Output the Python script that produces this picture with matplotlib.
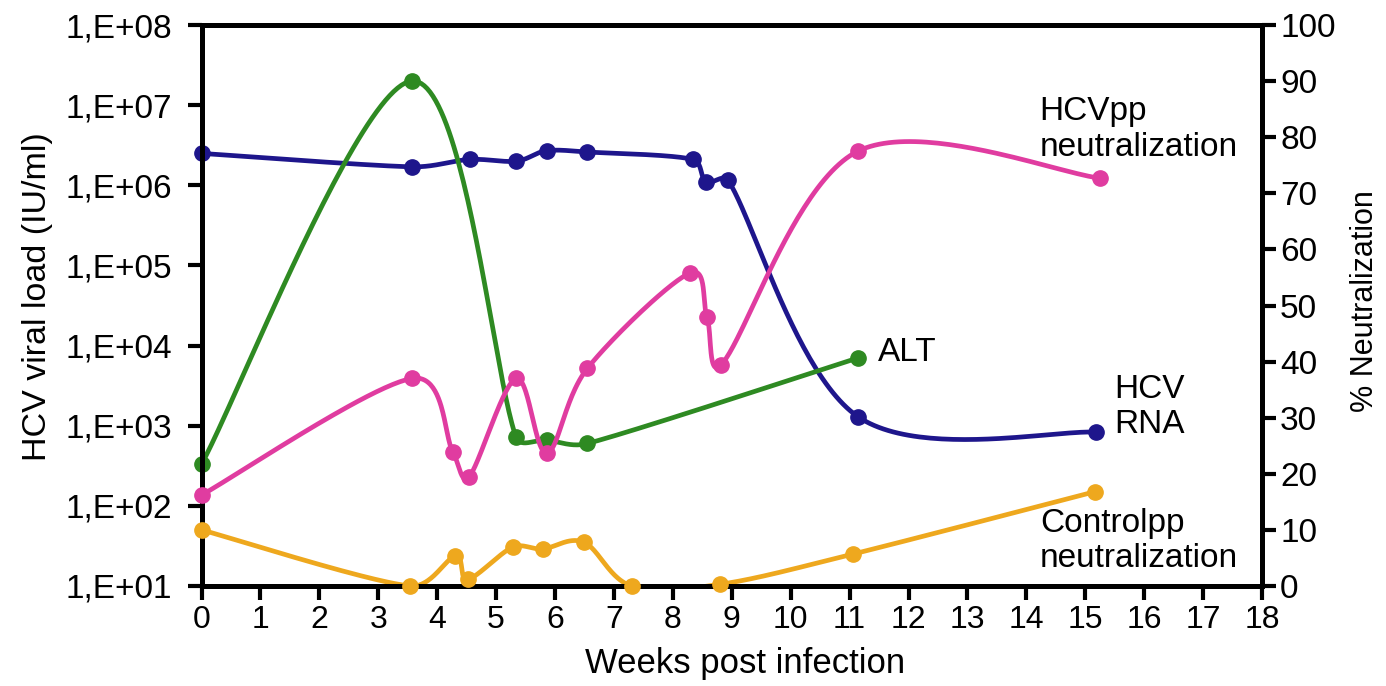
import numpy as np
import matplotlib
matplotlib.use("Agg")
import matplotlib.pyplot as plt
from matplotlib.ticker import FixedLocator, FixedFormatter, NullLocator

plt.rcParams['font.family'] = ['Liberation Sans', 'DejaVu Sans']

# ---- data ----
rna_weeks = [0, 3.57, 4.55, 5.34, 5.86, 6.55, 8.34, 8.56, 8.94, 11.14, 15.18]
rna_load = [2.5e6, 1.7e6, 2.1e6, 2.0e6, 2.7e6, 2.6e6, 2.1e6, 1.1e6, 1.15e6, 1.3e3, 8.3e2]

alt_weeks = [0, 3.57, 5.34, 5.86, 6.55, 11.14]
alt_vals = [330, 2.0e7, 720, 660, 600, 7000]

hcvpp_weeks = [0, 3.57, 4.27, 4.54, 5.34, 5.86, 6.55, 8.29, 8.58, 8.82, 11.14, 15.25]
hcvpp_neut = [16.2, 37.0, 23.8, 19.4, 37.0, 23.7, 38.8, 55.8, 47.9, 39.4, 77.5, 72.7]

ctrl_weeks = [0, 3.54, 4.31, 4.52, 5.28, 5.79, 6.49, 7.30, 8.80, 11.06, 15.16]
ctrl_neut = [10.0, 0.0, 5.3, 1.2, 6.9, 6.6, 7.8, 0.0, 0.3, 5.7, 16.8]

x_ticks = list(range(0, 19))
left_ticks = [1e1, 1e2, 1e3, 1e4, 1e5, 1e6, 1e7, 1e8]
left_labels = ['1,E+01', '1,E+02', '1,E+03', '1,E+04', '1,E+05', '1,E+06', '1,E+07', '1,E+08']
right_ticks = list(range(0, 101, 10))

c_rna = '#1e168c'
c_alt = '#2e8a22'
c_hcvpp = '#e03ca0'
c_ctrl = '#eea81e'


def smooth_display(a, xs, ys, n=50, k=0.4):
    """Excel-like smoothed line computed in display space (Bezier, capped arms)."""
    P = a.transData.transform(np.column_stack([xs, ys]).astype(float))
    m = len(P)
    out = []
    for i in range(m - 1):
        p0 = P[i - 1] if i > 0 else P[i]
        p1 = P[i]
        p2 = P[i + 1]
        p3 = P[i + 2] if i + 2 < m else P[i + 1]
        seg_len = np.linalg.norm(p2 - p1)
        t1 = (p2 - p0) / 6.0
        t2 = (p3 - p1) / 6.0
        for t in (t1, t2):
            L = np.linalg.norm(t)
            if L > k * seg_len and L > 0:
                t *= k * seg_len / L
        c1 = p1 + t1
        c2 = p2 - t2
        tt = np.linspace(0, 1, n)[:, None]
        seg = ((1 - tt) ** 3) * p1 + 3 * ((1 - tt) ** 2) * tt * c1 + 3 * (1 - tt) * tt ** 2 * c2 + tt ** 3 * p2
        out.append(seg if i == 0 else seg[1:])
    s = a.transData.inverted().transform(np.vstack(out))
    return s[:, 0], s[:, 1]


fig = plt.figure(figsize=(13.86, 6.86), dpi=100)
ax = fig.add_axes([201.5 / 1386, 1 - 586 / 686, (1262 - 201.5) / 1386, (586 - 25) / 686])
ax2 = ax.twinx()

ax.set_yscale('log')
ax.set_ylim(1e1, 1e8)
ax.set_xlim(0, 18)
ax2.set_ylim(0, 100)

lw = 3.4
ms = 11

for a, xs, ys, col in [(ax, rna_weeks, rna_load, c_rna), (ax, alt_weeks, alt_vals, c_alt),
                       (ax2, hcvpp_weeks, hcvpp_neut, c_hcvpp), (ax2, ctrl_weeks, ctrl_neut, c_ctrl)]:
    sx, sy = smooth_display(a, xs, ys)
    a.plot(sx, sy, color=col, lw=lw, solid_capstyle='round', solid_joinstyle='round', zorder=2)
    a.plot(xs, ys, 'o', color=col, ms=ms, zorder=4, clip_on=False)

ax.yaxis.set_major_locator(FixedLocator(left_ticks))
ax.yaxis.set_major_formatter(FixedFormatter(left_labels))
ax.yaxis.set_minor_locator(NullLocator())
ax.set_xticks(x_ticks)
ax2.set_yticks(right_ticks)

fs = 24
for a in (ax, ax2):
    for sp in a.spines.values():
        sp.set_linewidth(3.6)
        sp.set_color('black')
        sp.set_zorder(3)
    a.tick_params(axis='both', which='major', direction='out', length=10, width=3,
                  labelsize=fs, colors='black')
ax.tick_params(axis='y', pad=11)
ax.tick_params(axis='x', pad=4, labelsize=23)
ax2.tick_params(axis='y', pad=3)

ax.set_xlabel('Weeks post infection', fontsize=25)
ax.xaxis.set_label_coords(745 / 1386, (686 - 664) / 686, transform=fig.transFigure)
ax.xaxis.label.set_va('center')
ax.set_ylabel('HCV viral load (IU/ml)', fontsize=24.5)
ax.yaxis.set_label_coords(38 / 1386, 1 - 297 / 686, transform=fig.transFigure)
ax.yaxis.label.set_va('center')
ax2.set_ylabel('% Neutralization', fontsize=22, rotation=90)
ax2.yaxis.set_label_coords(1365 / 1386, 1 - 301 / 686, transform=fig.transFigure)
ax2.yaxis.label.set_va('center')

ax.set_zorder(1)
ax.patch.set_visible(False)
ax2.set_zorder(2)

tfs = 24
ax2.text(11.48, 41.7, 'ALT', fontsize=tfs, va='center', ha='left')
ax2.text(14.22, 81.4, 'HCVpp\nneutralization', fontsize=tfs, va='center', ha='left', linespacing=1.2)
ax2.text(15.5, 31.9, 'HCV\nRNA', fontsize=tfs, va='center', ha='left', linespacing=1.15)
ax2.text(14.23, 8.0, 'Controlpp\nneutralization', fontsize=tfs, va='center', ha='left', linespacing=1.15)

fig.savefig('out.png', dpi=100)
